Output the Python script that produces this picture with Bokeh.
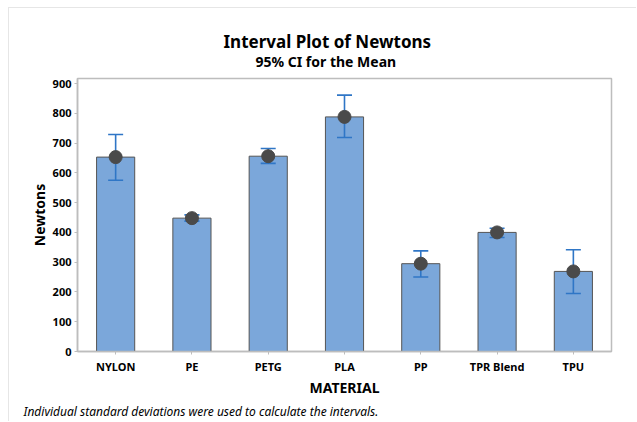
from bokeh.plotting import figure
from bokeh.models import ColumnDataSource, Title, Range1d, FactorRange, FixedTicker
from bokeh.embed import file_html
from bokeh.resources import INLINE

# Tensile strength by material: mean and 95% confidence interval (Newtons)
materials = ["NYLON", "PE", "PETG", "PLA", "PP", "TPR Blend", "TPU"]
means = [653, 448, 656, 788, 295, 400, 269]
ci_lower = [575, 438, 632, 719, 250, 383, 195]
ci_upper = [729, 459, 682, 861, 338, 414, 342]
y_ticks = [0, 100, 200, 300, 400, 500, 600, 700, 800, 900]

FONT = "Noto Sans"
BAR_FILL = "#7ba7da"
BAR_LINE = "#555555"
CI_COLOR = "#2f76c6"
DOT_COLOR = "#4a4a4a"
FRAME_GRAY = "#bdbdbd"

src = ColumnDataSource(dict(material=materials, mean=means,
                            lower=ci_lower, upper=ci_upper))

p = figure(width=628, height=414, output_backend="svg", toolbar_location=None,
           x_range=FactorRange(*materials, range_padding=0),
           y_range=Range1d(0, 917),
           min_border_left=68, min_border_top=70,
           min_border_right=26, min_border_bottom=71)
p.styles = {"margin-left": "8px", "margin-top": "7px",
            "border-left": "1px solid #e6e6e6", "border-top": "1px solid #e6e6e6"}

p.xgrid.visible = False
p.ygrid.visible = False
p.outline_line_color = FRAME_GRAY
p.outline_line_width = 1.5

# bars at the mean
p.vbar(x="material", top="mean", width=0.5, source=src,
       fill_color=BAR_FILL, line_color=BAR_LINE, line_width=1)

# confidence interval: stem plus caps
p.segment(x0="material", y0="lower", x1="material", y1="upper", source=src,
          line_color=CI_COLOR, line_width=1.6)
p.scatter(x="material", y="upper", source=src, marker="dash", size=15,
          line_color=CI_COLOR, line_width=1.6)
p.scatter(x="material", y="lower", source=src, marker="dash", size=15,
          line_color=CI_COLOR, line_width=1.6)

# mean symbol
p.scatter(x="material", y="mean", source=src, size=13,
          fill_color=DOT_COLOR, line_color=DOT_COLOR)

# axes
for ax in (p.xaxis[0], p.yaxis[0]):
    ax.axis_line_color = FRAME_GRAY
    ax.axis_line_width = 1.5
    ax.major_tick_line_color = FRAME_GRAY
    ax.major_tick_in = 0
    ax.major_tick_out = 3
    ax.minor_tick_line_color = None
    ax.major_label_text_font = FONT
    ax.major_label_text_font_style = "bold"
    ax.major_label_text_font_size = "11px"
    ax.major_label_text_color = "black"
    ax.axis_label_text_font = FONT
    ax.axis_label_text_font_style = "bold"
    ax.axis_label_text_font_size = "14px"
    ax.axis_label_text_color = "black"

p.yaxis.ticker = FixedTicker(ticks=y_ticks)
p.yaxis.axis_label = "Newtons"
p.yaxis.major_label_standoff = 3
p.yaxis.axis_label_standoff = 1
p.xaxis.axis_label = "MATERIAL"
p.xaxis.major_label_standoff = 4
p.xaxis.axis_label_standoff = 1

# subtitle first (closest to the frame), then the main title above it
p.add_layout(Title(text="95% CI for the Mean", align="left", offset=178,
                   text_font=FONT, text_font_style="bold", text_font_size="14px",
                   text_color="black", standoff=16), "above")
p.add_layout(Title(text="Interval Plot of Newtons", align="left", offset=146,
                   text_font=FONT, text_font_style="bold", text_font_size="17px",
                   text_color="black", standoff=-22), "above")

# footnote under the x axis
p.add_layout(Title(text="Individual standard deviations were used to calculate the intervals.",
                   align="left", offset=-54,
                   text_font=FONT, text_font_style="italic", text_font_size="12px",
                   text_color="black", standoff=2), "below")

open("out.html", "w").write(file_html(p, INLINE))
